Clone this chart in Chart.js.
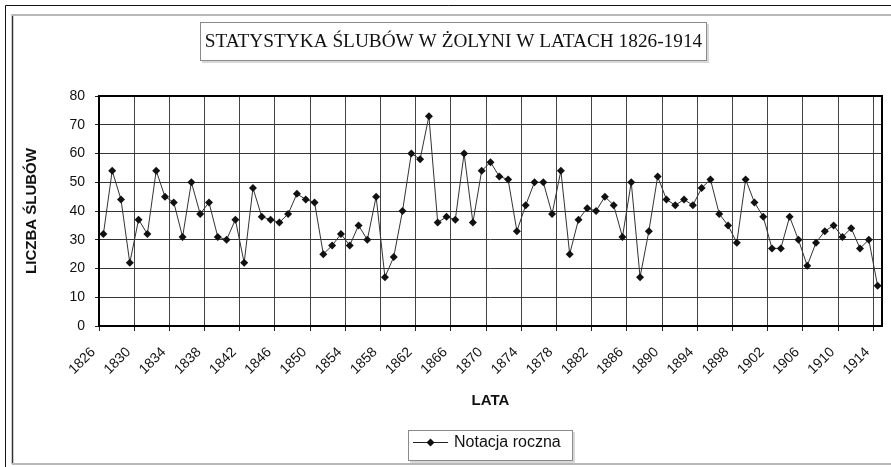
<!DOCTYPE html>
<html>
<head>
<meta charset="utf-8">
<script src="https://cdn.jsdelivr.net/npm/chart.js@4/dist/chart.umd.min.js"></script>
<style>
  body { margin: 0; background: #fff; }
  canvas { display: block; }
</style>
</head>
<body>
<canvas id="chart" width="891" height="467"></canvas>
<script>
const years = [
  '1826', '1827', '1828', '1829', '1830', '1831', '1832', '1833', '1834', '1835',
  '1836', '1837', '1838', '1839', '1840', '1841', '1842', '1843', '1844', '1845',
  '1846', '1847', '1848', '1849', '1850', '1851', '1852', '1853', '1854', '1855',
  '1856', '1857', '1858', '1859', '1860', '1861', '1862', '1863', '1864', '1865',
  '1866', '1867', '1868', '1869', '1870', '1871', '1872', '1873', '1874', '1875',
  '1876', '1877', '1878', '1879', '1880', '1881', '1882', '1883', '1884', '1885',
  '1886', '1887', '1888', '1889', '1890', '1891', '1892', '1893', '1894', '1895',
  '1896', '1897', '1898', '1899', '1900', '1901', '1902', '1903', '1904', '1905',
  '1906', '1907', '1908', '1909', '1910', '1911', '1912', '1913', '1914'
];

// liczba slubow w kolejnych latach
const weddings = [
  32, 54, 44, 22, 37, 32, 54, 45, 43, 31,
  50, 39, 43, 31, 30, 37, 22, 48, 38, 37,
  36, 39, 46, 44, 43, 25, 28, 32, 28, 35,
  30, 45, 17, 24, 40, 60, 58, 73, 36, 38,
  37, 60, 36, 54, 57, 52, 51, 33, 42, 50,
  50, 39, 54, 25, 37, 41, 40, 45, 42, 31,
  50, 17, 33, 52, 44, 42, 44, 42, 48, 51,
  39, 35, 29, 51, 43, 38, 27, 27, 38, 30,
  21, 29, 33, 35, 31, 34, 27, 30, 14
];

const tickLabels = [
  '1826', '1830', '1834', '1838', '1842', '1846', '1850', '1854', '1858', '1862',
  '1866', '1870', '1874', '1878', '1882', '1886', '1890', '1894', '1898', '1902',
  '1906', '1910', '1914'
];

const titleText = 'STATYSTYKA ŚLUBÓW W ŻOLYNI W LATACH 1826-1914';
const yTitle = 'LICZBA ŚLUBÓW';
const xTitle = 'LATA';
const seriesName = 'Notacja roczna';

const sans = '"Liberation Sans", Arial, sans-serif';
const serif = '"Liberation Serif", "Times New Roman", serif';

// ramki, tytul, opisy osi i legenda rysowane recznie
const decorations = {
  id: 'decorations',
  beforeDraw(chart) {
    const ctx = chart.ctx;
    ctx.save();
    ctx.fillStyle = '#fff';
    ctx.fillRect(0, 0, chart.width, chart.height);

    // outer frame
    ctx.strokeStyle = '#111';
    ctx.lineWidth = 1;
    ctx.beginPath();
    ctx.moveTo(5.5, chart.height);
    ctx.lineTo(5.5, 5.5);
    ctx.lineTo(chart.width, 5.5);
    ctx.stroke();

    // inner frame
    ctx.strokeStyle = '#333';
    ctx.lineWidth = 1.5;
    ctx.beginPath();
    ctx.moveTo(12.5, 14);
    ctx.lineTo(12.5, 464);
    ctx.stroke();
    ctx.strokeStyle = '#b8b8b8';
    ctx.lineWidth = 2;
    ctx.beginPath();
    ctx.moveTo(12, 15);
    ctx.lineTo(chart.width, 15);
    ctx.moveTo(12, 464);
    ctx.lineTo(chart.width, 464);
    ctx.stroke();

    // title box
    ctx.fillStyle = '#d8d8d8';
    ctx.fillRect(202, 24, 507, 39);
    ctx.fillStyle = '#fff';
    ctx.fillRect(200, 22, 507, 39);
    ctx.strokeStyle = '#8a8a8a';
    ctx.lineWidth = 1;
    ctx.strokeRect(200.5, 22.5, 506, 38);
    ctx.fillStyle = '#111';
    ctx.font = '19.3px ' + serif;
    ctx.textAlign = 'center';
    ctx.textBaseline = 'middle';
    ctx.fillText(titleText, 453.5, 42);

    // axis titles
    const area = chart.chartArea;
    ctx.font = 'bold 15px ' + sans;
    ctx.fillText(xTitle, (area.left + area.right) / 2, 401);
    ctx.save();
    ctx.translate(32, (area.top + area.bottom) / 2);
    ctx.rotate(-Math.PI / 2);
    ctx.fillText(yTitle, 0, 0);
    ctx.restore();

    // legend
    ctx.fillStyle = '#d8d8d8';
    ctx.fillRect(410, 432, 165, 31);
    ctx.fillStyle = '#fff';
    ctx.fillRect(408, 430, 165, 31);
    ctx.strokeStyle = '#8a8a8a';
    ctx.strokeRect(408.5, 430.5, 164, 30);
    ctx.strokeStyle = '#222';
    ctx.beginPath();
    ctx.moveTo(413, 442.5);
    ctx.lineTo(448, 442.5);
    ctx.stroke();
    ctx.fillStyle = '#111';
    ctx.beginPath();
    ctx.moveTo(430.5, 438.5);
    ctx.lineTo(434.5, 442.5);
    ctx.lineTo(430.5, 446.5);
    ctx.lineTo(426.5, 442.5);
    ctx.closePath();
    ctx.fill();
    ctx.font = '16px ' + sans;
    ctx.textAlign = 'left';
    ctx.fillText(seriesName, 454, 443);
    ctx.restore();
  },
  beforeDatasetsDraw(chart) {
    const ctx = chart.ctx;
    const a = chart.chartArea;
    ctx.save();
    ctx.strokeStyle = '#000';
    ctx.lineWidth = 2;
    ctx.strokeRect(a.left, a.top, a.right - a.left, a.bottom - a.top);
    ctx.restore();
  }
};

new Chart(document.querySelector('#chart'), {
  type: 'line',
  data: {
    labels: years,
    datasets: [{
      label: seriesName,
      data: weddings,
      borderColor: '#333',
      borderWidth: 1,
      pointStyle: 'rectRot',
      pointRadius: 4,
      pointBackgroundColor: '#111',
      pointBorderColor: '#111',
      pointBorderWidth: 0,
      tension: 0
    }]
  },
  options: {
    responsive: false,
    animation: false,
    layout: {
      padding: { top: 96, right: 9, left: 0, bottom: 0 }
    },
    scales: {
      x: {
        offset: true,
        afterFit: function(scale) {
          scale.height = 141;
          scale.paddingLeft = 0;
          scale.paddingRight = 0;
        },
        grid: {
          offset: true,
          color: ctx => (ctx.index % 4 === 0 ? '#444' : 'transparent'),
          tickColor: ctx => (ctx.index % 4 === 0 ? '#222' : 'transparent'),
          tickLength: 5,
          lineWidth: 1
        },
        border: { display: false },
        ticks: {
          autoSkip: false,
          minRotation: 45,
          maxRotation: 45,
          padding: 13,
          labelOffset: -10,
          color: '#111',
          font: { family: sans, size: 14 },
          callback: function(value, index) {
            const lbl = years[index];
            return tickLabels.includes(lbl) ? lbl : '';
          }
        }
      },
      y: {
        min: 0,
        max: 80,
        afterFit: function(scale) {
          scale.width = 99;
          scale.paddingTop = 0;
          scale.paddingBottom = 0;
        },
        grid: {
          color: '#333',
          tickColor: '#222',
          tickLength: 4,
          lineWidth: 1
        },
        border: { display: false },
        ticks: {
          stepSize: 10,
          padding: 10,
          color: '#111',
          font: { family: sans, size: 14 }
        }
      }
    },
    plugins: {
      legend: { display: false },
      title: { display: false },
      tooltip: { enabled: false }
    }
  },
  plugins: [decorations]
});
</script>
</body>
</html>
